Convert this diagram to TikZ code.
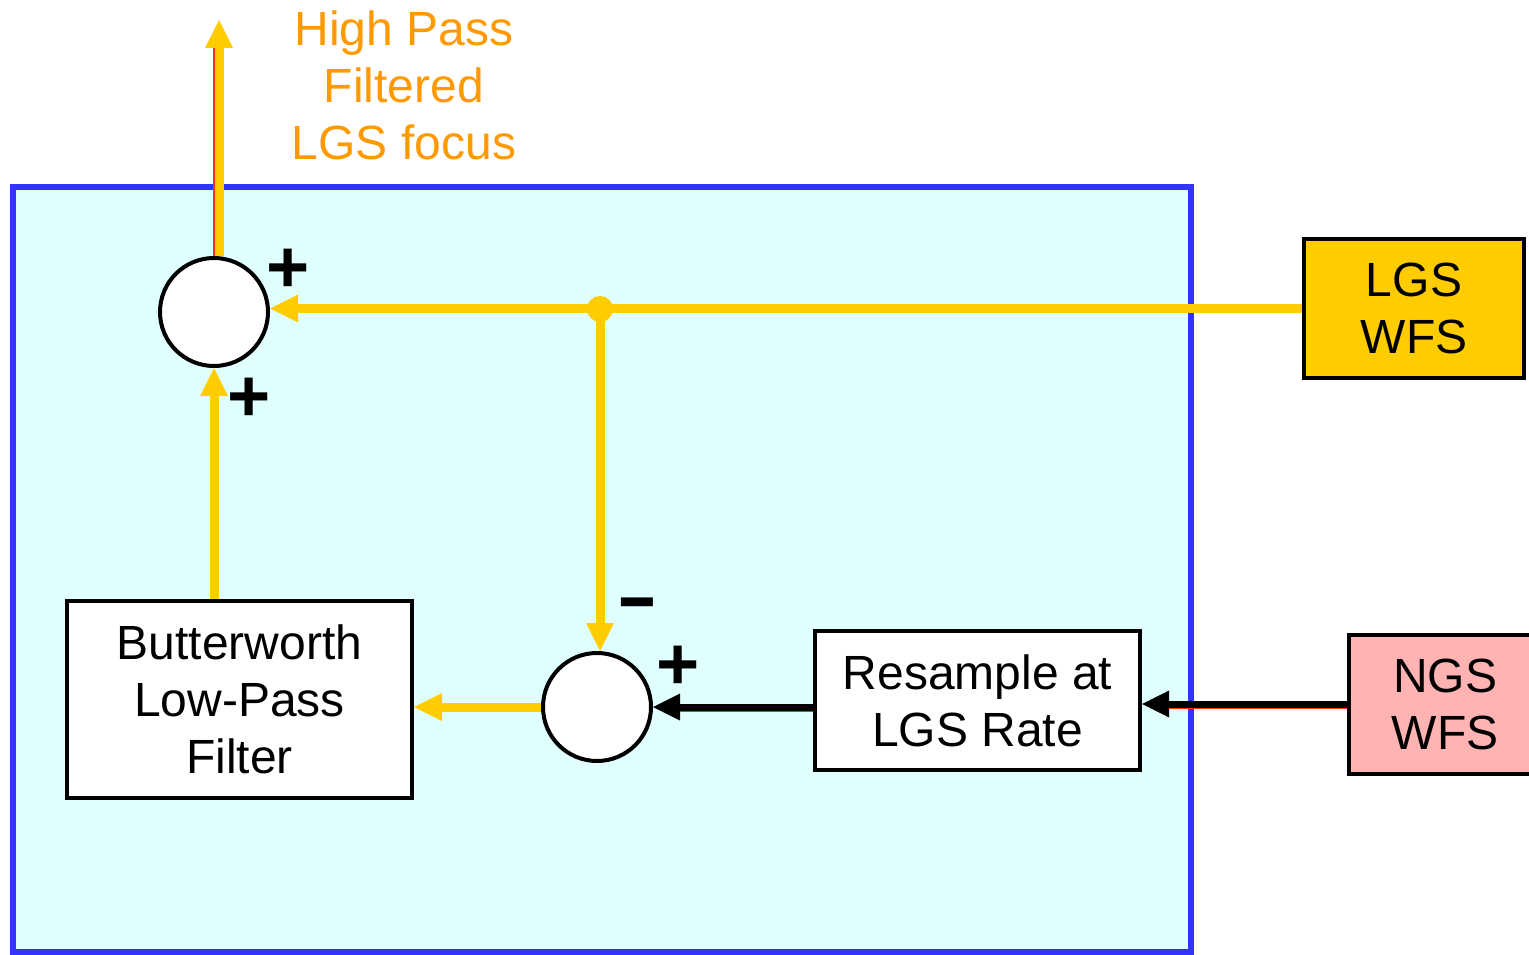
\documentclass[tikz,border=0pt]{standalone}
\usepackage{graphicx}
\usepackage{fontspec}
\setmainfont{Liberation Sans}
\usetikzlibrary{arrows.meta}
\definecolor{lgsyellow}{HTML}{FFCC00}
\definecolor{hporange}{HTML}{FF9900}
\definecolor{frameblue}{HTML}{3333FF}
\definecolor{panel}{HTML}{E0FFFF}
\definecolor{ngspink}{HTML}{FFB3B3}
\definecolor{edgered}{HTML}{FF3300}
\begin{document}
\begin{tikzpicture}[x=1pt,y=-1pt,
  blk/.style={draw=black, line width=4pt, fill=white, align=center,
    font=\fontsize{48}{57}\selectfont, inner sep=0pt},
  sumnode/.style={circle, draw=black, line width=4pt, fill=white,
    minimum size=108pt, inner sep=0pt},
  yarrow/.style={draw=lgsyellow, line width=9pt,
    -{Triangle[length=28pt,width=28pt,line width=0pt,fill=lgsyellow]}},
  barrow/.style={draw=black, line width=7pt,
    -{Triangle[length=27pt,width=27pt,line width=0pt]}},
  redunder/.style={draw=edgered, line width=7pt},
  sign/.style={font=\bfseries\fontsize{74}{74}\selectfont, inner sep=0pt},
]
\useasboundingbox (0,0) rectangle (1529,955);
% frame
\draw[frameblue, line width=6pt, fill=panel] (13,187) rectangle (1191,952);
% label
\node[font=\fontsize{48}{57}\selectfont, text=hporange, align=center, inner sep=0pt] (hp) at (404,85) {High Pass\\Filtered\\LGS focus};
% blocks
\node[blk, minimum width=345pt, minimum height=197pt] (bw) at (239.5,699.5) {Butterworth\\Low-Pass\\Filter};
\node[blk, minimum width=325pt, minimum height=139pt] (rs) at (977.5,700.5) {Resample at\\LGS Rate};
\node[blk, fill=lgsyellow, minimum width=220pt, minimum height=139pt] (lgs) at (1414,308.5) {LGS\\WFS};
\node[blk, fill=ngspink, minimum width=192pt, minimum height=139pt] (ngs) at (1445,704) {NGS\\WFS};
% summing junctions
\node[sumnode] (s1) at (214,312) {};
\node[sumnode] (s2) at (597,707) {};
\node[circle, fill=lgsyellow, minimum size=26pt, inner sep=0pt] (j) at (600,309) {};
\coordinate (out) at (219,20);
% connectors
\draw[edgered, line width=11pt, shorten >=28pt] ([xshift=4pt]s1.north) -- ([xshift=-1pt]out);
\draw[yarrow] ([xshift=5pt]s1.north) -- (out);
\draw[yarrow] (lgs.west) -- (lgs.west -| s1.east);
\draw[yarrow] (j.center) -- (j |- s2.north);
\draw[yarrow] (s2.west) -- (s2.west -| bw.east);
\draw[yarrow] (bw.north -| s1.south) -- (s1.south);
\draw[redunder, shorten >=27pt] ([yshift=-1.5pt]ngs.west) -- ([yshift=-1.5pt]ngs.west -| rs.east);
\draw[barrow] (ngs.west) -- (ngs.west -| rs.east);
\draw[redunder, shorten >=27pt] ([yshift=-1.5pt]s2.east -| rs.west) -- ([yshift=-1.5pt]s2.east);
\draw[barrow] (s2.east -| rs.west) -- (s2.east);
% signs
\node[sign] (p1) at (288,271) {+};
\node[sign] (p2) at (249,400) {+};
\node[sign] (m1) at (637,610) {\scalebox{1.7}[1]{-}};
\node[sign] (p3) at (678,668) {+};
\end{tikzpicture}
\end{document}
